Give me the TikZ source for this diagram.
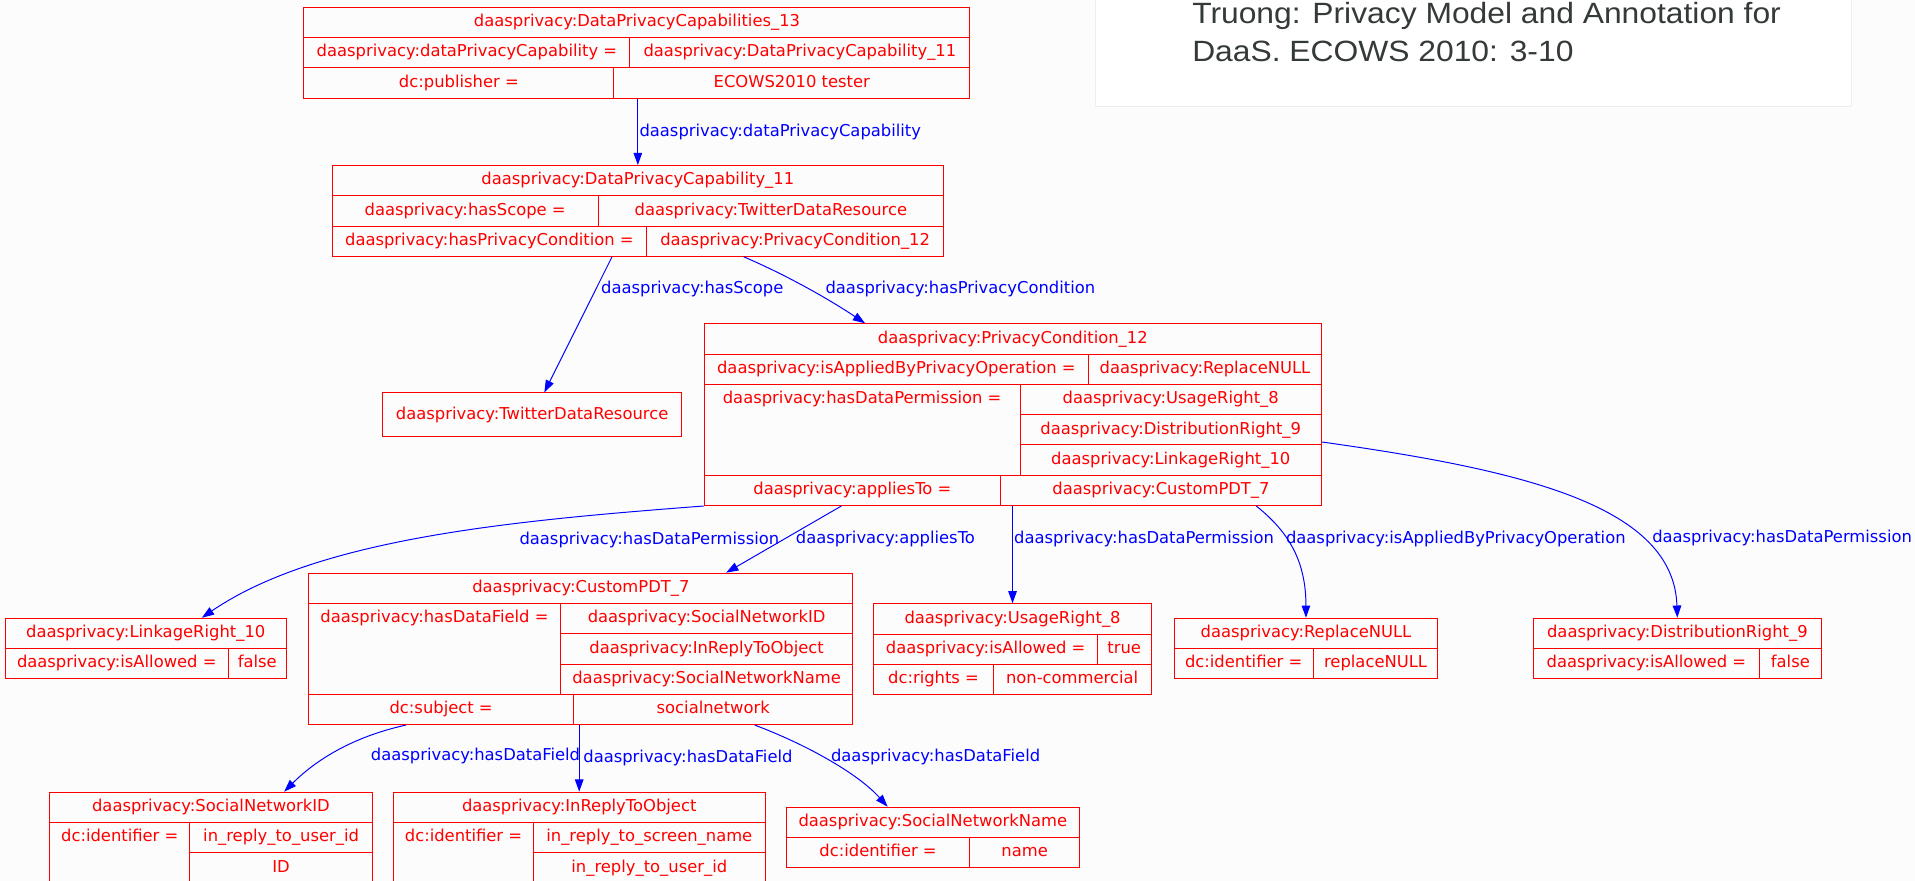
\documentclass[tikz,border=0pt]{standalone}
\usepackage{fontspec}
\usetikzlibrary{arrows.meta}
\newfontfamily\dejavu{DejaVu Sans}
\newfontfamily\capfont[FakeStretch=1.085]{Liberation Sans}
\newcommand{\gvfont}{\dejavu\fontsize{13.4pt}{16pt}\selectfont}
\definecolor{bgpaper}{RGB}{251,252,251}
\definecolor{capline}{RGB}{236,239,236}
\definecolor{captext}{RGB}{52,58,56}

\begin{document}
\begin{tikzpicture}[x=1pt, y=-1pt,
	cell/.style={draw=red, text=red, font=\gvfont, line width=0.8pt, inner sep=0pt,
		anchor=north west, minimum height=24.8pt, text height=15.9pt, text depth=8.9pt},
	tallcell/.style={cell, text depth=#1},
	plainbox/.style={draw=red, text=red, font=\gvfont, line width=0.8pt, inner sep=0pt, anchor=north west},
	link/.style={draw=blue, line width=0.8pt, -{Triangle[length=10pt,width=7pt]}},
	elab/.style={text=blue, font=\gvfont, inner sep=1pt, anchor=west},
	captxt/.style={text=captext, font=\capfont\fontsize{24pt}{30pt}\selectfont, inner sep=0pt, anchor=base west}]
	\useasboundingbox (0,0) rectangle (1568,721);
	\clip (0,0) rectangle (1568,721);
	\fill[bgpaper] (0,0) rectangle (1568,721);

	% caption
	\draw[fill=white, draw=capline, line width=0.8pt] (897,-2) rectangle (1516,86.8);
	\node[captxt] (cap1) at (976,19.6) {Truong: Privacy Model and Annotation for};
	\node[captxt] (cap2) at (976,50.5) {DaaS. ECOWS 2010: 3-10};

	% DataPrivacyCapabilities_13
	\node[cell, minimum width=545.3] (d13t) at (248.5,5.5) {daasprivacy:DataPrivacyCapabilities\_13};
	\node[cell, minimum width=266.8] (d13k1) at (248.5,30.3) {daasprivacy:dataPrivacyCapability =};
	\node[cell, minimum width=278.5] (d13v1) at (515.3,30.3) {daasprivacy:DataPrivacyCapability\_11};
	\node[cell, minimum width=253.6] (d13k2) at (248.5,55.1) {dc:publisher =};
	\node[cell, minimum width=291.7] (d13v2) at (502.1,55.1) {ECOWS2010 tester};

	% DataPrivacyCapability_11
	\node[cell, minimum width=500.7] (d11t) at (271.5,135.1) {daasprivacy:DataPrivacyCapability\_11};
	\node[cell, minimum width=217.9] (d11k1) at (271.5,159.9) {daasprivacy:hasScope =};
	\node[cell, minimum width=282.8] (d11v1) at (489.4,159.9) {daasprivacy:TwitterDataResource};
	\node[cell, minimum width=257.6] (d11k2) at (271.5,184.7) {daasprivacy:hasPrivacyCondition =};
	\node[cell, minimum width=243.1] (d11v2) at (529.1,184.7) {daasprivacy:PrivacyCondition\_12};

	\node[plainbox, minimum width=245.4, minimum height=35.7] (tdr) at (312.6,321.3) {daasprivacy:TwitterDataResource};

	% PrivacyCondition_12
	\node[cell, minimum width=505.4] (pct) at (576.2,264.7) {daasprivacy:PrivacyCondition\_12};
	\node[cell, minimum width=314.6] (pck1) at (576.2,289.5) {daasprivacy:isAppliedByPrivacyOperation =};
	\node[cell, minimum width=190.8] (pcv1) at (890.8,289.5) {daasprivacy:ReplaceNULL};
	\node[tallcell=58.5pt, minimum width=258.6] (pck2) at (576.2,314.3) {daasprivacy:hasDataPermission =};
	\node[cell, minimum width=246.8] (pcv2a) at (834.8,314.3) {daasprivacy:UsageRight\_8};
	\node[cell, minimum width=246.8] (pcv2b) at (834.8,339.1) {daasprivacy:DistributionRight\_9};
	\node[cell, minimum width=246.8] (pcv2c) at (834.8,363.9) {daasprivacy:LinkageRight\_10};
	\node[cell, minimum width=242.6] (pck3) at (576.2,388.7) {daasprivacy:appliesTo =};
	\node[cell, minimum width=262.8] (pcv3) at (818.8,388.7) {daasprivacy:CustomPDT\_7};

	% LinkageRight_10
	\node[cell, minimum width=230.2] (lrt) at (3.8,505.8) {daasprivacy:LinkageRight\_10};
	\node[cell, minimum width=182.8] (lrk) at (3.8,530.6) {daasprivacy:isAllowed =};
	\node[cell, minimum width=47.4] (lrv) at (186.6,530.6) {false};

	% CustomPDT_7
	\node[cell, minimum width=445.6] (cpt) at (252.4,468.9) {daasprivacy:CustomPDT\_7};
	\node[tallcell=58.5pt, minimum width=205.9] (cpk1) at (252.4,493.7) {daasprivacy:hasDataField =};
	\node[cell, minimum width=239.7] (cpv1a) at (458.3,493.7) {daasprivacy:SocialNetworkID};
	\node[cell, minimum width=239.7] (cpv1b) at (458.3,518.5) {daasprivacy:InReplyToObject};
	\node[cell, minimum width=239.7] (cpv1c) at (458.3,543.3) {daasprivacy:SocialNetworkName};
	\node[cell, minimum width=216.8] (cpk2) at (252.4,568.1) {dc:subject =};
	\node[cell, minimum width=228.8] (cpv2) at (469.2,568.1) {socialnetwork};

	% UsageRight_8
	\node[cell, minimum width=226.9] (urt) at (715.2,494) {daasprivacy:UsageRight\_8};
	\node[cell, minimum width=182.8] (urk1) at (715.2,518.8) {daasprivacy:isAllowed =};
	\node[cell, minimum width=44.1] (urv1) at (898,518.8) {true};
	\node[cell, minimum width=97.5] (urk2) at (715.2,543.6) {dc:rights =};
	\node[cell, minimum width=129.4] (urv2) at (812.7,543.6) {non-commercial};

	% ReplaceNULL
	\node[cell, minimum width=216] (rnt) at (960.9,505.8) {daasprivacy:ReplaceNULL};
	\node[cell, minimum width=114] (rnk) at (960.9,530.6) {dc:identifier =};
	\node[cell, minimum width=102] (rnv) at (1074.9,530.6) {replaceNULL};

	% DistributionRight_9
	\node[cell, minimum width=235.8] (drt) at (1255.1,505.8) {daasprivacy:DistributionRight\_9};
	\node[cell, minimum width=185.1] (drk) at (1255.1,530.6) {daasprivacy:isAllowed =};
	\node[cell, minimum width=50.7] (drv) at (1440.2,530.6) {false};

	% SocialNetworkID
	\node[cell, minimum width=264.2] (sit) at (40.2,648.2) {daasprivacy:SocialNetworkID};
	\node[tallcell=33.7pt, minimum width=114.9] (sik) at (40.2,673) {dc:identifier =};
	\node[cell, minimum width=149.3] (siva) at (155.1,673) {in\_reply\_to\_user\_id};
	\node[cell, minimum width=149.3] (sivb) at (155.1,697.8) {ID};

	% InReplyToObject
	\node[cell, minimum width=304.3] (irt) at (321.7,648.2) {daasprivacy:InReplyToObject};
	\node[tallcell=33.7pt, minimum width=114.8] (irk) at (321.7,673) {dc:identifier =};
	\node[cell, minimum width=189.5] (irva) at (436.5,673) {in\_reply\_to\_screen\_name};
	\node[cell, minimum width=189.5] (irvb) at (436.5,697.8) {in\_reply\_to\_user\_id};

	% SocialNetworkName
	\node[cell, minimum width=240.1] (snt) at (643.3,660.5) {daasprivacy:SocialNetworkName};
	\node[cell, minimum width=150.5] (snk) at (643.3,685.3) {dc:identifier =};
	\node[cell, minimum width=89.6] (snv) at (793.8,685.3) {name};

	% links
	\draw[link] (d11t.north |- d13v2.south) -- (d11t.north)
		node[elab, pos=0.5] (l1) {daasprivacy:dataPrivacyCapability};
	\draw[link] ([xshift=-28pt]d11v2.south west) -- ([xshift=10pt]tdr.north)
		node[elab, pos=0.24, xshift=3pt] (l2) {daasprivacy:hasScope};
	\draw[link] ([xshift=-42pt]d11v2.south) .. controls +(35,15) and +(-30,-20) .. ([xshift=-121pt]pct.north)
		node[elab, pos=0.52, xshift=12pt] (l3) {daasprivacy:hasPrivacyCondition};
	\draw[link] (pck3.south west) .. controls +(-157,12) and +(95,-65) .. ([xshift=46pt]lrt.north)
		node[elab, pos=0.52, xshift=85pt] (l4) {daasprivacy:hasDataPermission};
	\draw[link] ([xshift=-9pt]pck3.south) -- ([xshift=119pt]cpt.north)
		node[elab, pos=0.5, xshift=8.5pt] (l5) {daasprivacy:appliesTo};
	\draw[link] (urt.north |- pcv3.south) -- (urt.north)
		node[elab, pos=0.34] (l6) {daasprivacy:hasDataPermission};
	\draw[link] ([xshift=78pt]pcv3.south) .. controls +(27,21.5) and +(0,-46) .. (rnt.north)
		node[elab, pos=0.38, xshift=-2pt] (l7) {daasprivacy:isAppliedByPrivacyOperation};
	\draw[link] ([yshift=-10pt]pcv2b.east) .. controls +(168,23.5) and +(-3,-91) .. (drt.north)
		node[elab, pos=0.71, xshift=8.5pt] (l8) {daasprivacy:hasDataPermission};
	\draw[link] ([xshift=-29pt]cpk2.south) .. controls +(-45,10) and +(25,-25) .. ([xshift=60pt]sit.north)
		node[elab, pos=0.57, xshift=34pt] (l9) {daasprivacy:hasDataField};
	\draw[link] (irt.north |- cpv2.south) -- (irt.north)
		node[elab, pos=0.5, xshift=2pt] (l10) {daasprivacy:hasDataField};
	\draw[link] ([xshift=34pt]cpv2.south) .. controls +(40,15) and +(-25,-28) .. ([xshift=-37pt]snt.north)
		node[elab, pos=0.47, xshift=4.5pt] (l11) {daasprivacy:hasDataField};
\end{tikzpicture}
\end{document}
